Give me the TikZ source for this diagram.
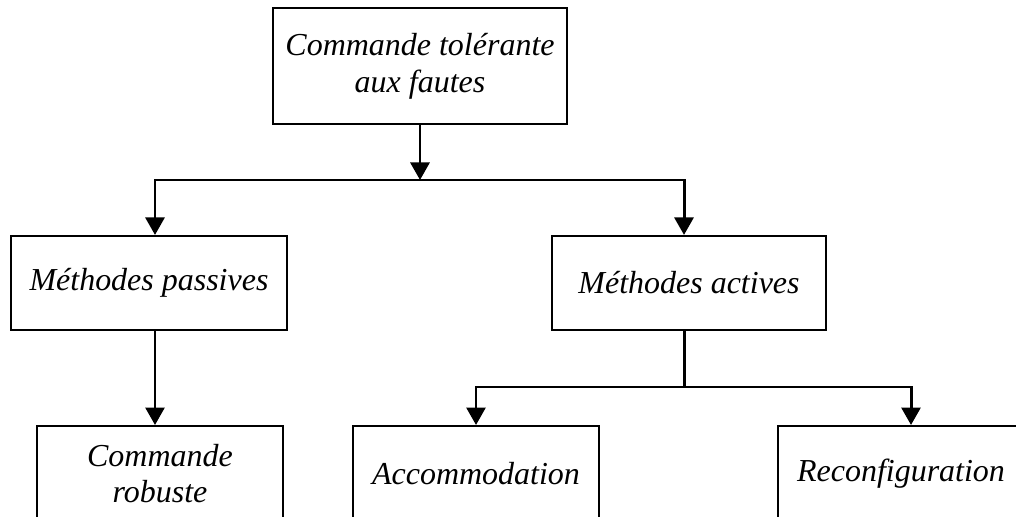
\documentclass[tikz,border=0pt]{standalone}
\usepackage{fontspec}
\setmainfont{Liberation Serif}
\usetikzlibrary{arrows.meta}

\begin{document}
\begin{tikzpicture}[
		box/.style={draw, line width=1.2pt, align=center, inner sep=0pt,
			font=\fontsize{18.2}{21}\selectfont\itshape},
		link/.style={line width=1.7pt, line join=miter},
		arr/.style={link, -{Triangle[width=0.38cm,length=0.35cm]}}
	]
		\clip (0,0) rectangle (20.32,-10.34);

		% root
		\node[box, minimum width=5.88cm, minimum height=2.32cm] (ftc) at (8.4,-1.32) {Commande tolérante\\aux fautes};

		% methods
		\node[box, minimum width=5.52cm, minimum height=1.88cm] (passive) at (2.98,-5.66) {Méthodes passives};
		\node[box, minimum width=5.48cm, minimum height=1.88cm] (active) at (13.78,-5.66) {Méthodes actives};

		% leaves
		\node[box, minimum width=4.92cm, minimum height=1.9cm, anchor=north] (robust) at (3.2,-8.5) {Commande\\robuste};
		\node[box, minimum width=4.92cm, minimum height=1.9cm, anchor=north] (accom) at (9.52,-8.5) {Accommodation};
		\node[box, minimum width=4.92cm, minimum height=1.9cm, anchor=north] (reconf) at (18.02,-8.5) {Reconfiguration};

		% branch points
		\coordinate (split) at (8.4,-3.6);
		\coordinate (splitL) at (3.1,-3.6);
		\coordinate (splitR) at (13.68,-3.6);
		\coordinate (fork) at (13.68,-7.74);
		\coordinate (forkL) at (9.52,-7.74);
		\coordinate (forkR) at (18.22,-7.74);

		% connectors
		\draw[arr] (ftc.south) -- (split);
		\draw[arr] (split) -- (splitL) -- (splitL |- passive.north);
		\draw[arr] (split) -- (splitR) -- (splitR |- active.north);

		\draw[arr] (splitL |- passive.south) -- (splitL |- robust.north);

		\draw[link] (fork |- active.south) -- (fork);
		\draw[arr] (fork) -- (forkL) -- (accom.north);
		\draw[arr] (fork) -- (forkR) -- (forkR |- reconf.north);
\end{tikzpicture}
\end{document}
